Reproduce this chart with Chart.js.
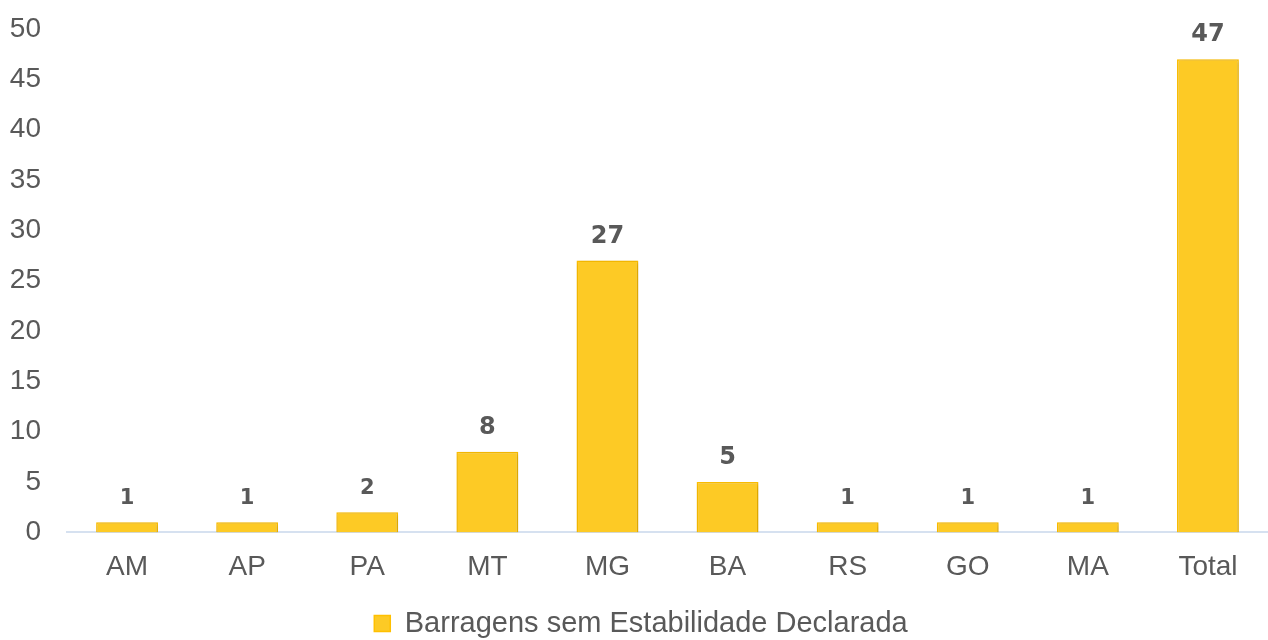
<!DOCTYPE html>
<html><head><meta charset="utf-8">
<script src="https://cdn.jsdelivr.net/npm/chart.js@4/dist/chart.umd.min.js"></script>
<style>html,body{margin:0;padding:0;background:#fff}#wrap{width:1268px;height:640px}</style>
</head><body><div id="wrap"><canvas id="c" width="1268" height="640"></canvas></div>
<script>
const categories = ["AM","AP","PA","MT","MG","BA","RS","GO","MA","Total"];
const seriesName = "Barragens sem Estabilidade Declarada";
const values = [1,1,2,8,27,5,1,1,1,47];
const yTicks = [0,5,10,15,20,25,30,35,40,45,50];

const shadowPlugin = {
  id:'barshadow',
  beforeDatasetsDraw(chart){
    const ctx = chart.ctx;
    ctx.save();
    ctx.shadowColor = 'rgba(0,0,0,0.22)';
    ctx.shadowBlur = 4;
    ctx.shadowOffsetX = 1;
    ctx.shadowOffsetY = 1;
  },
  afterDatasetsDraw(chart){ chart.ctx.restore(); }
};

const labelPlugin = {
  id:'vlabels',
  afterDatasetsDraw(chart){
    const ctx = chart.ctx;
    const meta = chart.getDatasetMeta(0);
    ctx.save();
    ctx.fillStyle = '#595959';
    ctx.textAlign = 'center';
    ctx.textBaseline = 'middle';
    meta.data.forEach((bar,i)=>{
      const small = values[i] < 3;
      ctx.font = 'bold ' + (small ? 21 : 24) + 'px "DejaVu Sans"';
      ctx.fillText(String(values[i]), bar.x, bar.y - 24);
    });
    ctx.restore();
  }
};

new Chart(document.getElementById('c'),{
  type:'bar',
  data:{labels:categories,datasets:[{label:seriesName,data:values,
    backgroundColor:'#FDCA25',borderColor:'#FFC000',borderWidth:1.5,
    categoryPercentage:1,barPercentage:0.515}]},
  options:{
    responsive:false,animation:false,
    layout:{padding:{top:29,right:-4,left:10,bottom:-8}},
    plugins:{
      legend:{position:'bottom',labels:{font:{family:'"Liberation Sans", Arial',size:29},color:'#595959',boxWidth:16,boxHeight:16,padding:1,useBorderRadius:false}},
      tooltip:{enabled:false}
    },
    scales:{
      x:{grid:{display:false,drawTicks:false},border:{color:'#D6E1F0',width:2},
         afterFit(ax){ax.height += 6; ax.paddingRight = -4; ax.paddingLeft = 0;},
         ticks:{font:{family:'"Liberation Sans", Arial',size:28},color:'#595959',padding:18}},
      y:{min:0,max:50,afterBuildTicks(ax){ax.ticks=yTicks.map(v=>({value:v}));},
         afterFit(ax){ax.width = 57; ax.paddingTop = 0; ax.paddingBottom = 0;},
         grid:{display:false,drawTicks:false},border:{display:false},
         ticks:{font:{family:'"Liberation Sans", Arial',size:28},color:'#595959',padding:26}}
    }
  },
  plugins:[shadowPlugin,labelPlugin]
});
</script></body></html>
